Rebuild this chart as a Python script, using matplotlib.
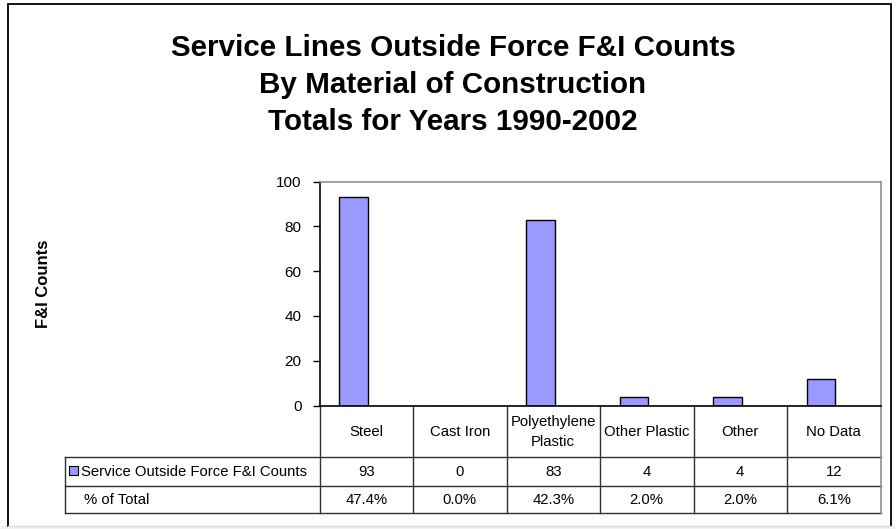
import matplotlib
matplotlib.use("Agg")
import matplotlib.pyplot as plt
from matplotlib.patches import Rectangle

# ---- data ----
categories = ["Steel", "Cast Iron", "Polyethylene\nPlastic", "Other Plastic", "Other", "No Data"]
counts = [93, 0, 83, 4, 4, 12]
pct_labels = ["47.4%", "0.0%", "42.3%", "2.0%", "2.0%", "6.1%"]
series_name = "Service Outside Force F&I Counts"
pct_row_name = "% of Total"
title_lines = ["Service Lines Outside Force F&I Counts",
               "By Material of Construction",
               "Totals for Years 1990-2002"]
y_label = "F&I Counts"
y_ticks = [0, 20, 40, 60, 80, 100]

plt.rcParams['font.family'] = ['Liberation Sans', 'DejaVu Sans']

W, H = 896, 529
fig = plt.figure(figsize=(W / 100, H / 100), dpi=100)
fig.patch.set_facecolor("white")

# overlay axes in pixel coordinates (y downward)
ov = fig.add_axes([0, 0, 1, 1])
ov.set_xlim(0, W)
ov.set_ylim(H, 0)
ov.axis("off")
ov.set_zorder(0)

# bottom grey strip and outer frame
ov.add_patch(Rectangle((0, 526), W, 3, facecolor="#f2f2f2", edgecolor="none"))
ov.plot([8, 8, 891, 891], [526, 4, 4, 526], color="black", lw=1.3, solid_joinstyle="miter")
ov.plot([8, 891], [526, 526], color="#d8d8d8", lw=1)

# plot area
px0, px1 = 319.5, 880.5
py_top, py_bot = 181.7, 405.5
ax = fig.add_axes([px0 / W, 1 - py_bot / H, (px1 - px0) / W, (py_bot - py_top) / H])
ax.set_zorder(2)
ax.patch.set_alpha(0)
n = len(categories)
xs = list(range(n))
bar_offset = -0.134
bar_w = 0.305
ax.bar([x + bar_offset for x in xs], counts, width=bar_w, color="#9999FF",
       edgecolor="black", linewidth=1.0)
ax.set_xlim(-0.5, n - 0.5)
ax.set_ylim(0, 100)
ax.set_yticks(y_ticks)
ax.set_yticklabels([str(t) for t in y_ticks], fontsize=11)
ax.tick_params(axis="y", direction="out", length=5, width=1, pad=8, colors="black")
ax.set_xticks([])
ax.spines["left"].set_color("black")
ax.spines["bottom"].set_color("black")
ax.spines["left"].set_linewidth(1.2)
ax.spines["bottom"].set_linewidth(1.2)
ax.spines["top"].set_color("#909090")
ax.spines["right"].set_color("#909090")
ax.spines["top"].set_linewidth(1.2)
ax.spines["right"].set_linewidth(1.2)

# title
for i, line in enumerate(title_lines):
    ov.text(453, 48 + i * 37, line, ha="center", va="center",
            fontsize=21.3, fontweight="bold")

# y label
ov.text(44, 284, y_label, rotation=90, ha="center", va="center",
        fontsize=12, fontweight="bold")

# data table
col_w = (px1 - px0) / n
r0, r1, r2, r3 = py_bot, 456.5, 486.0, 512.5
lab_x0 = 64.5
lc = "#303030"
lw = 1.0
ov.plot([lab_x0, px1], [r1, r1], color=lc, lw=lw)
ov.plot([lab_x0, px1], [r2, r2], color=lc, lw=lw)
ov.plot([lab_x0, px1], [r3, r3], color=lc, lw=lw)
ov.plot([lab_x0, lab_x0], [r1, r3], color=lc, lw=lw)
for i in range(n + 1):
    x = px0 + i * col_w
    color = "#909090" if i == n else lc
    ov.plot([x, x], [r0, r3], color=color, lw=1.2 if i == n else lw)

for i, cat in enumerate(categories):
    cx = px0 + (i + 0.5) * col_w
    ov.text(cx, (r0 + r1) / 2 + 1, cat, ha="center", va="center", fontsize=10.7,
            linespacing=1.5)
    ov.text(cx, (r1 + r2) / 2 + 1, str(counts[i]), ha="center", va="center", fontsize=10.7)
    ov.text(cx, (r2 + r3) / 2 + 1, pct_labels[i], ha="center", va="center", fontsize=10.7)

# legend key and row labels
ov.add_patch(Rectangle((68.5, 466), 9, 9, facecolor="#9999FF", edgecolor="black", lw=0.8))
ov.text(81, (r1 + r2) / 2 + 1, series_name, ha="left", va="center", fontsize=10.7)
ov.text(84, (r2 + r3) / 2 + 1, pct_row_name, ha="left", va="center", fontsize=10.7)

fig.savefig("out.png", dpi=100)
